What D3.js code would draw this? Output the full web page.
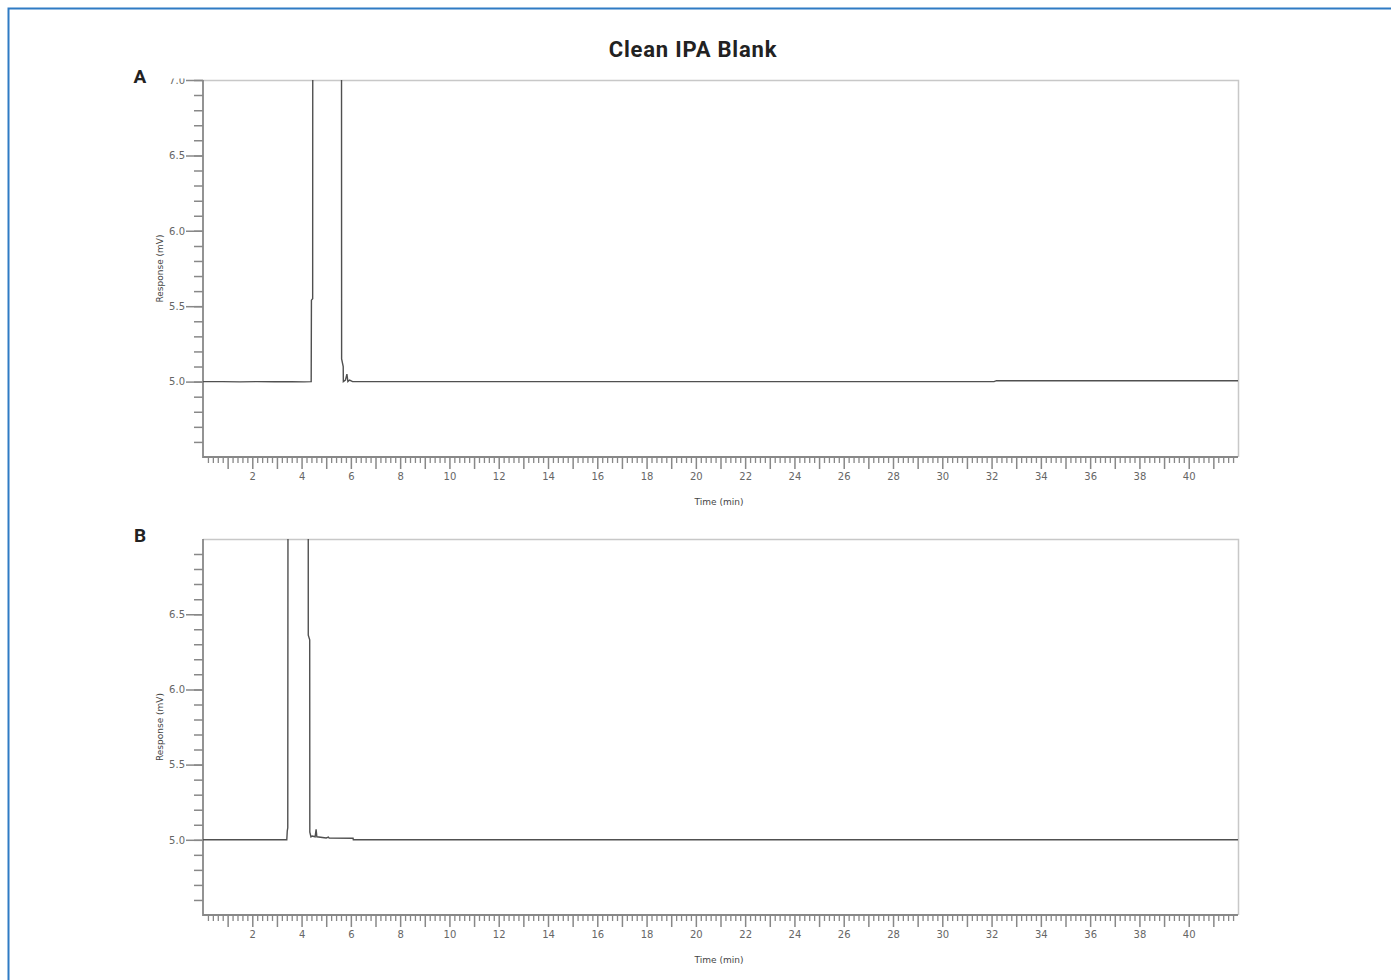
<!DOCTYPE html>
<html>
<head>
<meta charset="utf-8">
<title>Clean IPA Blank</title>
<script src="https://cdn.jsdelivr.net/npm/d3@7"></script>
<style>
    body { margin: 0; background: #fff; }
    svg { display: block; }
    .tick-label { font-family: "DejaVu Sans", sans-serif; font-size: 10px; fill: #666; }
    .axis-title { font-family: "DejaVu Sans", sans-serif; font-size: 9px; fill: #444; }
</style>
</head>
<body>
<div id="chart"></div>
<script>
// trace A: [time (min), response (mV)]
var traceA = [
    [0, 5.0], [0.8, 5.0], [1.5, 4.998], [2.2, 5.0], [2.9, 4.999], [3.6, 5.0], [4.1, 4.998],
    [4.39, 5.0], [4.40, 5.54], [4.45, 5.55], [4.455, 7.6], [5.62, 7.6], [5.625, 5.15],
    [5.69, 5.10], [5.695, 5.0], [5.78, 5.01], [5.84, 5.05], [5.88, 5.0], [5.95, 5.01],
    [6.07, 5.0], [12, 5.0], [32.1, 5.0], [32.2, 5.006], [42, 5.006]
];

// trace B
var traceB = [
    [0, 5.0], [3.40, 5.0], [3.42, 5.06], [3.44, 5.08], [3.45, 7.6], [4.27, 7.6], [4.272, 6.36],
    [4.33, 6.33], [4.335, 5.05], [4.38, 5.02], [4.43, 5.025], [4.55, 5.02], [4.59, 5.07],
    [4.62, 5.02], [5.0, 5.012], [5.09, 5.018], [5.12, 5.011], [6.09, 5.01], [6.1, 5.0], [42, 5.0]
];

var xDomain = [0, 42];
var yDomain = [4.5, 7.0];
var xLabels = [2, 4, 6, 8, 10, 12, 14, 16, 18, 20, 22, 24, 26, 28, 30, 32, 34, 36, 38, 40];
var yLabelsA = [5.0, 5.5, 6.0, 6.5, 7.0];
var yLabelsB = [5.0, 5.5, 6.0, 6.5];

var W = 1391, H = 980;

var svg = d3.select("#chart").append("svg")
    .attr("width", W)
    .attr("height", H);

// frame of the figure
svg.append("path")
    .attr("d", "M8.5," + H + "V8.5H" + W)
    .attr("fill", "none")
    .attr("stroke", "#2f7bc4")
    .attr("stroke-width", 2);

svg.append("text")
    .attr("x", 693)
    .attr("y", 57)
    .attr("text-anchor", "middle")
    .style("font-family", "Roboto, sans-serif")
    .style("font-weight", "bold")
    .style("font-size", "22px")
    .style("letter-spacing", "0.8px")
    .style("fill", "#222")
    .text("Clean IPA Blank");

function drawPanel(id, letter, trace, yLabels, top, bottom, yMax)
{
    var left = 203, right = 1238;
    var x = d3.scaleLinear().domain(xDomain).range([left, right]);
    var y = d3.scaleLinear().domain(yDomain).range([bottom, top]);

    var g = svg.append("g").attr("id", "panel_" + id);

    g.append("text")
        .attr("x", 140)
        .attr("y", top + 3)
        .attr("text-anchor", "middle")
        .style("font-family", "Roboto, sans-serif")
        .style("font-weight", "bold")
        .style("font-size", "19px")
        .style("fill", "#222")
        .text(letter);

    // top and right of the box are light
    g.append("path")
        .attr("d", "M" + left + "," + (top + 0.5) + "H" + (right + 0.5) + "V" + bottom)
        .attr("fill", "none")
        .attr("stroke", "#c8c8c8")
        .attr("stroke-width", 1.5);

    // clip for the trace and for the y labels
    g.append("clipPath").attr("id", "clip_" + id)
        .append("rect")
        .attr("x", left).attr("y", top)
        .attr("width", right - left).attr("height", bottom - top);

    g.append("clipPath").attr("id", "clipy_" + id)
        .append("rect")
        .attr("x", 100).attr("y", top - 1.5)
        .attr("width", right).attr("height", bottom - top + 80);

    // y axis: minor every 0.1, major every 0.5
    var yMinor = d3.range(46, Math.round(yMax * 10) + 1).map(function(d) { return d / 10; });
    var yAxisG = g.append("g").attr("clip-path", "url(#clipy_" + id + ")");

    yAxisG.append("g")
        .attr("transform", "translate(" + left + ",0)")
        .call(d3.axisLeft(y).tickValues(yMinor).tickSize(9).tickFormat(""))
        .call(function(s) {
            s.select(".domain").remove();
            s.selectAll("line").attr("stroke", "#888").attr("stroke-width", 1.5);
        });

    yAxisG.append("g")
        .attr("transform", "translate(" + left + ",0)")
        .call(d3.axisLeft(y).tickValues(yLabels).tickSize(17).tickPadding(1).tickFormat(d3.format(".1f")))
        .call(function(s) {
            s.select(".domain").remove();
            s.selectAll("line").attr("stroke", "#888").attr("stroke-width", 1.5);
            s.selectAll("text").attr("class", "tick-label").attr("font-family", null).attr("font-size", null);
        });

    // x axis: minor every 0.2, medium every 1, labels every 2
    var xMinor = d3.range(1, 210).map(function(d) { return d / 5; })
        .filter(function(d) { return Math.abs(d - Math.round(d)) > 0.01; });
    var xMedium = d3.range(1, 42);

    g.append("g")
        .attr("transform", "translate(0," + bottom + ")")
        .call(d3.axisBottom(x).tickValues(xMinor).tickSize(6).tickFormat(""))
        .call(function(s) {
            s.select(".domain").remove();
            s.selectAll("line").attr("stroke", "#888").attr("stroke-width", 1.3);
        });

    g.append("g")
        .attr("transform", "translate(0," + bottom + ")")
        .call(d3.axisBottom(x).tickValues(xMedium).tickSize(12).tickFormat(""))
        .call(function(s) {
            s.select(".domain").remove();
            s.selectAll("line").attr("stroke", "#888").attr("stroke-width", 1.5);
        });

    g.append("g")
        .attr("transform", "translate(0," + bottom + ")")
        .call(d3.axisBottom(x).tickValues(xLabels).tickSize(0).tickPadding(16).tickFormat(d3.format("d")))
        .call(function(s) {
            s.select(".domain").remove();
            s.selectAll("text").attr("class", "tick-label").attr("font-family", null).attr("font-size", null);
        });

    // left and bottom axis lines
    g.append("path")
        .attr("d", "M" + left + "," + top + "V" + bottom + "H" + right)
        .attr("fill", "none")
        .attr("stroke", "#888")
        .attr("stroke-width", 1.8);

    g.append("text")
        .attr("class", "axis-title")
        .attr("transform", "translate(163," + ((top + bottom) / 2) + ") rotate(-90)")
        .attr("text-anchor", "middle")
        .text("Response (mV)");

    g.append("text")
        .attr("class", "axis-title")
        .attr("x", 719)
        .attr("y", bottom + 48)
        .attr("text-anchor", "middle")
        .text("Time (min)");

    var line = d3.line()
        .x(function(d) { return x(d[0]); })
        .y(function(d) { return y(d[1]); });

    g.append("path")
        .datum(trace)
        .attr("clip-path", "url(#clip_" + id + ")")
        .attr("d", line)
        .attr("fill", "none")
        .attr("stroke", "#505050")
        .attr("stroke-width", 1.4);
}

drawPanel("a", "A", traceA, yLabelsA, 80, 457, 7.0);
drawPanel("b", "B", traceB, yLabelsB, 539, 915, 6.9);
</script>
</body>
</html>
